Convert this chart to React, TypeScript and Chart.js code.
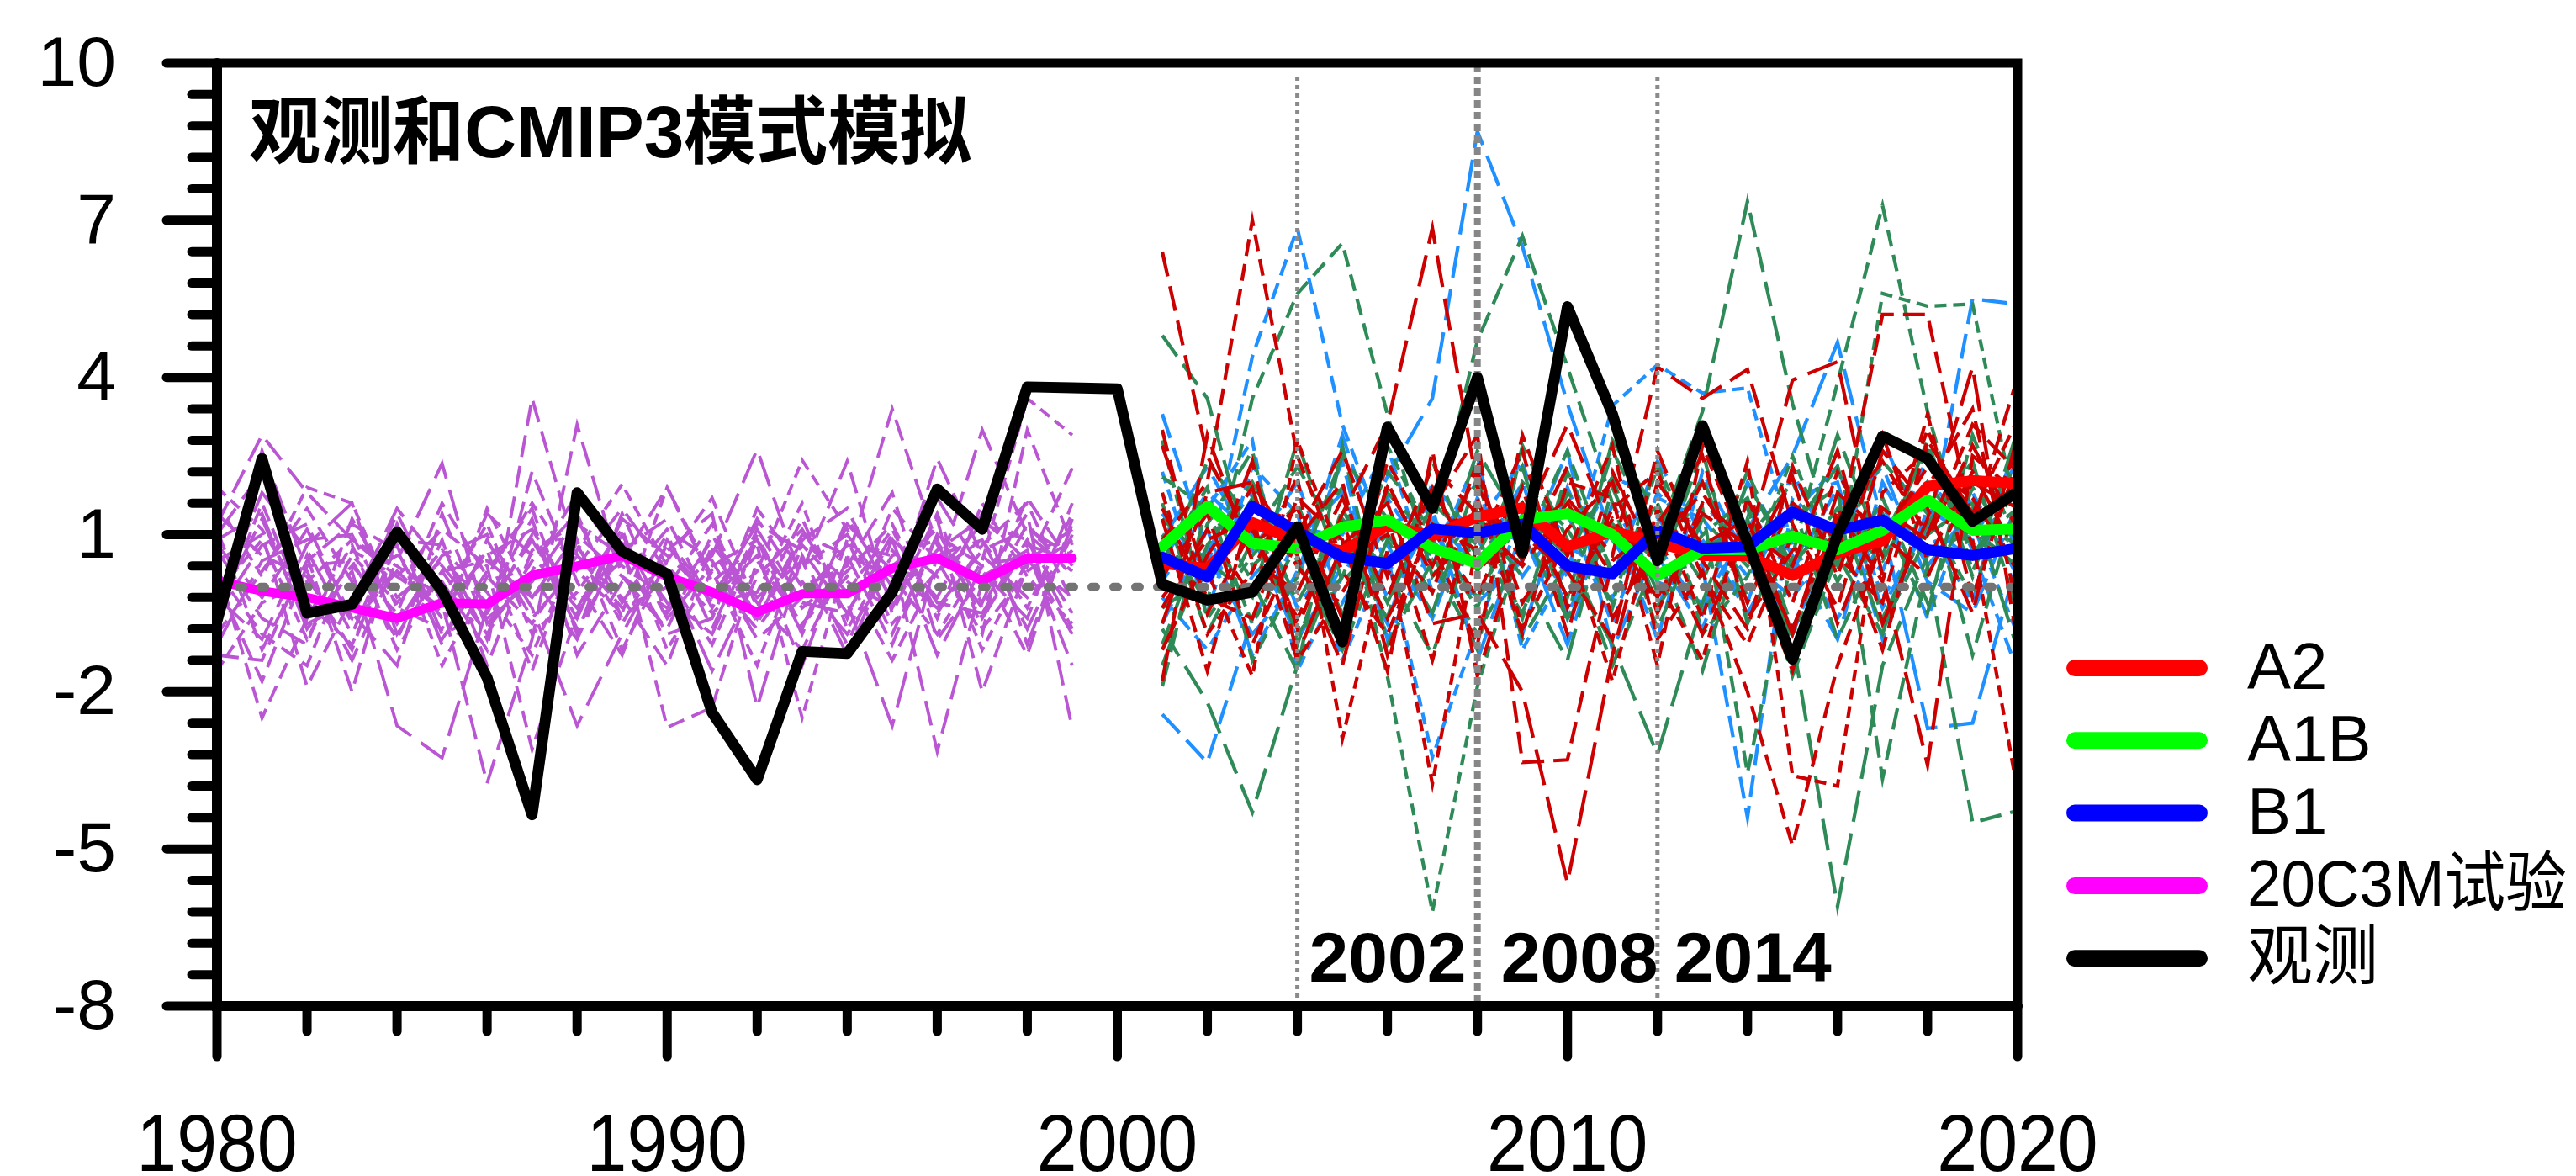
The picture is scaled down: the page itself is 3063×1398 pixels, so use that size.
import React, { useEffect, useRef } from "react";
import { Chart, registerables } from "chart.js";
Chart.register(...registerables);

// ---------- data ----------
const HIST_YEARS = [1980, 1981, 1982, 1983, 1984, 1985, 1986, 1987, 1988, 1989, 1990, 1991, 1992, 1993, 1994, 1995, 1996, 1997, 1998, 1999];
const PROJ_YEARS = [2001, 2002, 2003, 2004, 2005, 2006, 2007, 2008, 2009, 2010, 2011, 2012, 2013, 2014, 2015, 2016, 2017, 2018, 2019, 2020];
const OBS_YEARS = [1980, 1981, 1982, 1983, 1984, 1985, 1986, 1987, 1988, 1989, 1990, 1991, 1992, 1993, 1994, 1995, 1996, 1997, 1998, 1999, 2000,
  2001, 2002, 2003, 2004, 2005, 2006, 2007, 2008, 2009, 2010, 2011, 2012, 2013, 2014, 2015, 2016, 2017, 2018, 2019, 2020];

const OBSERVED = [-0.65, 2.45, -0.5, -0.33, 1.05, -0.07, -1.73, -4.35, 1.8, 0.68, 0.25, -2.4, -3.68, -1.23, -1.27, -0.1, 1.87, 1.1, 3.82, 3.8, 3.78,
  0.05, -0.25, -0.1, 1.15, -1.05, 3.05, 1.5, 4.0, 0.65, 5.35, 3.3, 0.5, 3.08, 0.85, -1.38, 1.0, 2.88, 2.45, 1.25, 1.82];

const MEAN_20C3M = [0.12, -0.08, -0.2, -0.4, -0.6, -0.3, -0.33, 0.22, 0.4, 0.6, 0.2, -0.1, -0.48, -0.13, -0.13, 0.36, 0.55, 0.12, 0.55, 0.55];
const MEAN_A2 = [0.45, 0.35, 1.23, 0.88, 0.68, 1.17, 0.97, 1.34, 1.51, 0.77, 1.06, 0.85, 0.6, 0.6, 0.22, 0.65, 0.88, 1.92, 2.03, 1.97];
const MEAN_A1B = [0.77, 1.54, 0.83, 0.74, 1.14, 1.28, 0.74, 0.45, 1.28, 1.4, 1.0, 0.22, 0.71, 0.71, 0.97, 0.71, 1.08, 1.66, 1.08, 1.11];
const MEAN_B1 = [0.57, 0.19, 1.54, 1.06, 0.57, 0.45, 1.11, 1.03, 1.2, 0.4, 0.25, 1.08, 0.74, 0.77, 1.43, 1.08, 1.28, 0.71, 0.6, 0.74];

const MEMBERS_20C3M = [
  [1.2, 2.9, 1.8, 0.9, 0.2, -0.4, 0.6, 1.1, -0.3, 0.5, 1.9, 0.2, -0.8, 0.4, 1.0, -0.2, 0.7, 1.3, 0.5, 1.1],
  [0.4, -2.5, -0.6, 0.8, -1.2, 0.3, -0.9, 0.5, 1.4, -0.6, 0.2, -1.1, 0.9, -0.4, 0.3, 1.2, -0.5, 0.8, 1.6, -0.3],
  [-0.8, 2.6, 0.3, -1.4, 0.5, 2.36, -0.7, 0.2, -1.0, 0.9, -0.3, 0.6, 2.63, 0.1, -0.9, 0.4, 1.1, -0.6, 0.8, 0.5],
  [1.6, 0.2, 1.9, 1.6, -0.4, -0.8, 1.5, -0.2, 0.7, 1.96, 0.4, -0.5, 0.3, 2.42, 1.1, -0.7, 0.3, 0.9, -0.4, 1.4],
  [-1.3, -1.4, 0.6, -2.0, 1.0, 0.1, -1.2, 3.6, 0.6, -0.2, -1.5, 0.8, -0.3, -1.2, 0.5, 3.4, 0.8, -0.4, 1.2, 0.2],
  [0.9, 1.4, -0.8, 0.3, -2.65, -3.26, -0.4, 0.9, -0.6, 1.3, 0.6, -0.2, 1.2, 0.7, -0.5, 0.9, -1.3, 0.4, 0.6, -0.9],
  [-0.5, 0.8, 1.2, -0.6, 1.4, -0.3, -3.75, -1.0, 3.1, 0.2, -0.8, 1.0, -0.6, 0.9, 1.5, -0.3, 2.45, 0.6, -0.2, 0.7],
  [0.3, -0.9, -1.5, 0.7, 0.2, 1.1, 0.4, -3.1, -0.5, 0.8, -2.68, -2.3, 0.5, -0.7, 0.2, -1.4, 0.3, 1.2, 0.9, -0.5],
  [-1.1, 0.5, 0.9, 1.0, -0.7, 0.6, 1.0, -0.4, -2.65, -0.9, 0.7, 1.4, -2.3, 0.6, -1.1, 0.9, 0.2, 3.0, 1.0, 0.3],
  [1.9, 1.1, -0.3, -1.1, 0.8, -1.5, 0.2, 1.6, 0.3, -0.5, 1.9, 0.1, 0.8, -2.5, 0.6, 0.2, -0.9, 0.5, 3.6, 2.9],
  [0.1, -1.8, 0.4, 0.5, -1.0, 0.9, -1.5, 0.7, 1.2, 0.6, -0.9, -0.6, 1.5, 0.3, 2.4, -0.5, 1.3, -2.0, 0.4, 2.27],
  [-0.3, 1.8, 0.7, -0.9, 1.1, -1.1, 0.9, -0.6, 0.4, 1.5, 0.3, -1.6, 0.2, 1.1, -0.3, -2.65, 0.6, 0.9, -0.8, 1.0],
  [0.7, -0.6, -1.1, 1.3, -0.2, 0.5, -0.3, 1.3, -1.3, 0.1, 1.1, 0.5, -1.0, -0.2, 0.8, 0.6, -3.14, 0.1, 1.4, -2.7],
  [-0.9, 0.3, 1.5, 0.1, 0.6, -0.6, 0.7, -1.6, 0.9, -1.2, 0.5, 1.7, -0.4, 1.3, -0.6, 1.5, 0.5, -0.9, 3.0, 0.8],
  [1.0, 2.2, -0.2, -0.5, -1.5, 1.4, -0.8, 0.3, 1.8, 0.4, -0.2, -0.9, 1.0, -0.8, 1.3, 0.0, 1.7, 0.3, -0.6, 1.6],
  [-1.6, -0.3, 0.1, 0.9, 0.4, -0.2, 1.2, -0.9, -0.1, 1.1, -1.2, 0.3, -1.5, 0.8, -0.1, 1.1, -0.6, 1.6, 0.2, -0.7],
  [0.5, 1.0, -1.9, -0.2, 0.9, 0.8, -1.0, 2.2, 0.1, -1.3, 0.9, -0.2, 0.6, -1.5, 0.9, -0.9, 1.0, -0.3, 1.7, 0.4],
  [-0.2, -1.0, 0.8, 1.6, -0.9, 0.3, 0.5, -0.2, 1.0, 0.2, -0.4, 0.9, -0.2, 0.5, -1.3, 0.7, -0.2, 1.4, -1.1, 1.2],
  [1.4, 0.6, 0.2, -1.2, 1.2, -0.9, -0.5, 1.0, -0.8, 0.7, 1.3, -0.4, 1.3, 0.0, 0.4, 1.8, -1.0, 0.2, 0.7, -1.5],
  [-0.6, 1.6, -0.5, 0.4, -0.5, 1.6, 0.2, -0.7, 0.6, -0.4, 0.0, 1.2, -0.7, 0.9, 0.1, -0.4, 1.4, -0.8, 0.3, 0.9],
  [0.8, -0.2, 1.1, -0.7, 0.3, -0.5, 1.4, 0.6, -0.4, 1.0, -0.6, 0.4, 0.9, -0.9, 1.2, 0.3, -0.4, 0.7, 1.1, 0.6],
  [-0.1, 0.9, -1.0, 0.6, -0.3, 0.7, -0.1, -1.3, 0.8, -0.7, 0.8, -0.3, -0.1, 1.6, -0.8, 0.6, 0.9, -1.2, 0.5, -0.2],
  [1.1, -1.2, 0.5, 1.2, 0.7, -1.0, 0.3, 1.5, -0.9, 1.4, -0.5, 0.7, -0.6, 1.0, 0.6, -1.1, 1.0, 0.4, -1.3, 1.3],
  [-0.4, 1.3, -0.7, -0.3, 1.5, 0.4, -0.6, 0.1, 1.3, -0.3, 1.0, -0.8, 1.1, -0.3, -0.5, 1.0, -0.3, -0.5, 0.9, -0.8],
];

const MEMBERS_A2 = [
  [6.4, 2.5, 0.8, 1.5, -0.6, 1.9, 0.4, 2.2, -0.3, 1.1, 2.0, -0.5, 1.6, 0.9, -0.8, 1.3, 2.4, 1.0, 3.1, 2.2],
  [0.9, 2.0, 7.0, 2.5, 0.3, -0.9, 1.2, 0.7, 2.6, -0.4, 1.5, 2.2, 0.2, -1.1, 1.0, 0.6, -0.3, 2.8, 1.4, 3.2],
  [-1.2, 0.6, 1.9, -0.8, 1.4, 3.1, 6.85, 1.9, 0.5, 2.3, -0.6, 0.9, 1.8, 0.4, 2.1, -0.7, 1.5, 0.9, 2.7, 1.1],
  [1.8, -0.9, 0.3, 2.1, -2.9, 0.7, -3.76, 0.9, 1.6, -0.2, 1.3, 0.1, -1.4, 1.7, -0.3, 2.2, 0.6, 3.0, 0.8, 2.6],
  [0.2, 1.4, -1.1, 0.9, 2.0, -1.3, 1.5, 2.9, -3.35, -3.3, 0.5, 1.2, 2.5, -0.6, 0.7, 1.1, -1.2, 1.9, 3.4, -0.4],
  [2.7, 0.1, 2.4, -1.3, 0.8, 1.6, -0.7, -0.5, -2.0, -5.65, -1.3, 2.0, 0.8, 1.3, -0.9, 1.8, 1.0, 0.2, 2.0, 1.5],
  [-0.4, 1.1, -0.2, 1.0, 2.6, 0.2, 2.3, 1.4, 0.9, 1.7, 0.6, 4.2, 3.6, 4.15, 1.2, -0.4, 2.6, 1.5, -0.5, 2.9],
  [1.3, -1.6, 1.6, 0.4, -0.7, 2.4, 0.8, -1.1, 2.9, 0.6, 2.7, -1.0, 0.3, -2.0, -4.94, -1.5, 0.9, 2.3, 1.7, 0.3],
  [-1.8, 2.9, 0.5, -0.1, 1.7, -0.2, 1.9, 0.3, 1.2, 3.1, 1.0, -0.2, 1.4, 0.8, 3.95, 4.3, 0.2, -3.4, 2.5, 1.8],
  [0.6, 0.3, -1.7, 2.8, 0.5, 1.0, -0.1, 2.4, -0.8, 0.9, -1.8, 1.5, -0.6, 2.4, -3.6, -3.8, 1.8, 2.6, 0.9, -3.9],
  [3.0, -0.5, 1.1, -0.6, 1.2, -0.6, 1.1, -0.2, 1.9, -0.9, 2.2, 0.4, 2.0, -0.3, 1.6, 0.9, 5.2, 5.2, 1.2, 4.0],
  [-0.7, 1.8, 2.0, 0.6, -1.5, 2.0, 0.2, 1.2, 0.4, 1.6, 0.2, 1.0, -0.9, 1.1, 0.4, 2.6, -0.7, 1.3, 4.2, -1.1],
  [1.5, -0.2, -0.6, 1.7, 0.9, -1.6, 2.6, -1.7, 1.0, 0.3, -1.0, 2.6, 0.5, -0.8, 2.3, 0.2, 2.9, 0.5, 2.2, 0.6],
  [-0.2, 0.9, 1.3, -1.4, -0.1, 1.3, -1.4, 1.7, -0.9, 2.0, 1.7, -1.5, 2.7, 0.6, -1.6, 1.5, 0.1, 3.3, -0.2, 2.4],
];

const MEMBERS_A1B = [
  [4.8, 3.6, 0.4, 1.2, -0.5, 1.8, 0.9, -0.2, 1.4, 0.6, 2.1, -0.4, 1.0, 1.7, -0.8, 1.2, 0.5, 2.0, 0.8, 1.5],
  [1.0, -0.3, 3.6, 5.6, 6.56, 3.3, 0.2, 1.5, -0.6, 2.2, 0.3, 1.6, -0.5, 0.9, 2.0, 0.1, 1.7, -0.3, 1.9, 0.7],
  [-0.8, -2.2, -4.3, -1.5, 0.7, 0.4, 1.8, 0.6, 2.3, -0.7, 1.2, 0.5, 2.1, -0.2, 1.1, 2.3, -0.6, 1.2, 2.4, -0.5],
  [2.1, 1.5, -0.7, 0.8, 1.9, -1.7, -6.2, -1.9, 0.9, 1.4, -0.4, 2.3, 0.6, 1.5, -0.9, 0.8, 2.4, 1.4, -0.2, 2.6],
  [0.3, 2.4, 1.2, -0.9, 0.2, 2.2, 1.1, 4.7, 6.7, 4.2, 1.6, -0.8, 1.3, 0.4, 1.6, -1.0, 0.9, 2.6, 0.6, 1.9],
  [-1.5, 0.8, 2.0, 0.5, -1.2, 0.9, -0.5, 2.1, -1.0, 0.5, -1.1, -3.2, -0.3, 2.0, 0.4, 1.5, -0.8, 1.0, 1.6, -1.2],
  [1.6, -0.9, 0.9, 2.3, 0.8, -0.6, 2.4, 0.3, 1.6, -0.2, 2.6, 0.9, 3.35, 7.36, 3.5, 0.5, 1.4, -0.5, 2.9, 0.8],
  [0.5, 1.9, -1.4, 0.2, 2.5, 1.3, 0.6, -0.9, 0.7, 2.6, 0.2, 1.1, 1.5, -3.55, 0.6, 3.9, 7.28, 3.35, 0.3, 2.2],
  [-0.4, 0.2, 1.7, -0.3, 1.3, 0.3, -1.3, 1.3, 0.2, -1.4, 1.9, -0.1, 0.8, 1.0, -1.0, -6.1, -1.5, 0.6, 1.1, 0.4],
  [2.8, -0.6, 0.6, 1.6, -0.6, 2.7, 0.9, -0.4, 2.0, 1.1, -0.3, 2.4, -0.9, 0.2, 2.5, 0.3, 5.6, 5.36, 5.4, 1.3],
  [-1.1, 1.2, 2.6, -1.1, 1.5, -0.3, 1.6, 0.8, -0.5, 1.8, 0.9, 0.2, 2.6, -0.7, 1.3, 1.9, -3.66, 0.4, -4.5, -4.27],
  [1.3, 0.5, -0.2, 2.8, 0.1, 1.0, -0.1, 2.6, 1.1, -0.6, 2.8, 1.4, 0.1, 2.2, 0.2, 2.9, 0.6, 2.8, 0.2, 3.0],
  [-1.9, 1.6, 0.1, -1.6, 2.7, -1.1, 0.5, -1.2, 2.7, 0.9, -1.5, 0.6, -1.6, 1.3, -1.7, 0.6, -0.9, 1.9, -1.3, 1.7],
];

const MEMBERS_B1 = [
  [-2.43, -3.35, -0.6, 0.9, 1.8, -0.2, 1.3, 0.4, 2.0, -0.5, 1.1, 0.6, -0.8, 1.5, 0.3, 1.9, -0.4, 1.2, 0.5, 1.0],
  [1.4, 0.3, 4.4, 6.85, 3.1, 0.8, -0.6, 1.7, 0.2, 1.4, -0.7, 1.8, 0.9, -0.3, 2.2, 0.4, 1.6, -0.6, 1.8, 0.2],
  [0.5, 1.8, 1.0, -1.0, 0.4, 2.1, 3.6, 8.7, 6.5, 3.5, 0.9, -0.4, 1.6, 0.7, -0.9, 1.3, 2.3, 0.1, -0.5, 1.6],
  [2.2, -0.5, 2.3, 1.4, -1.4, 0.6, -3.25, -0.8, 1.4, 0.2, 3.46, 4.24, 3.7, 3.8, 0.8, -0.6, 0.9, 2.0, 1.2, -0.9],
  [-0.7, 1.1, -1.3, 0.3, 2.4, -1.0, 0.8, 2.0, -0.9, 1.9, -0.2, 1.3, 0.4, -4.4, 1.7, 2.0, -1.0, 1.5, 0.9, 2.4],
  [0.9, 2.3, 0.7, 2.0, -0.3, 1.2, 1.5, -1.4, 1.1, -1.1, 1.6, 0.1, -0.3, 1.1, 2.5, 4.67, 1.2, -2.7, -2.6, 0.5],
  [3.3, 0.7, 1.8, -0.4, 0.9, -0.7, 2.0, 0.9, -0.3, 0.8, 0.2, 2.4, 1.0, -0.5, 1.0, 0.6, 2.8, 0.9, 5.5, 5.4],
  [-0.2, -1.2, 0.2, 1.1, 1.0, 2.7, -0.1, 1.2, 2.4, -0.6, 1.3, -1.0, 2.2, 0.5, -0.2, 1.0, 0.3, 2.5, 0.7, -1.6],
  [1.0, 0.6, -0.9, 0.1, 2.9, 0.3, 1.1, -0.3, 0.5, 2.6, -1.2, 0.8, -0.5, 2.0, 0.6, -1.0, 2.0, 0.4, 1.5, 0.9],
  [0.1, 1.5, 2.8, -1.6, 0.2, 1.7, 0.4, 2.5, -1.2, 0.4, 2.1, 1.7, 1.3, 0.2, 1.4, 2.3, -0.2, 1.1, -0.3, 3.0],
];

const Y_MAJOR_TICKS = [10, 7, 4, 1, -2, -5, -8];
const X_MAJOR_TICKS = [1980, 1990, 2000, 2010, 2020];
const PERIOD_LINES = [2004, 2008, 2012];
const PERIOD_LABELS = ["2002", "2008", "2014"];
const TITLE = "观测和CMIP3模式模拟";
const LEGEND_LABELS = ["A2", "A1B", "B1", "20C3M试验", "观测"];
const LEGEND_COLORS = ["#ff0000", "#00ff00", "#0000ff", "#ff00ff", "#000000"];

// ---------- styling ----------
const W = 3063;
const H = 1398;
const PLOT = { left: 258, top: 75, right: 2399, bottom: 1196 };
const SANS = '"Liberation Sans", Arial, Helvetica, "Noto Sans CJK SC", sans-serif';
const DASHES = [[30, 12], [20, 10], [38, 14], [14, 8], [26, 11], [44, 14]];

function pts(xs: number[], ys: number[]) {
  return xs.map((x, i) => ({ x, y: ys[i] }));
}

function memberSets(rows: number[][], xs: number[], color: string, width: number, order: number, label: string) {
  return rows.map((r, i) => ({
    label: label + (i + 1),
    data: pts(xs, r),
    borderColor: color,
    borderWidth: width,
    borderDash: DASHES[i % DASHES.length],
    borderCapStyle: "butt",
    borderJoinStyle: "miter",
    pointRadius: 0,
    tension: 0,
    fill: false,
    order,
  }));
}

function meanSet(xs: number[], ys: number[], color: string, width: number, order: number, label: string) {
  return {
    label,
    data: pts(xs, ys),
    borderColor: color,
    borderWidth: width,
    borderCapStyle: "round",
    borderJoinStyle: "round",
    pointRadius: 0,
    tension: 0,
    fill: false,
    order,
  };
}

export default function App() {
  const ref = useRef<HTMLCanvasElement>(null);

  useEffect(() => {
    document.body.style.margin = "0";
    document.body.style.overflow = "hidden";
    const canvas = ref.current;
    if (!canvas) return;

    const datasets: any[] = [
      ...memberSets(MEMBERS_B1, PROJ_YEARS, "#1e90ff", 4.2, 10, "B1 member "),
      ...memberSets(MEMBERS_A1B, PROJ_YEARS, "#2e8b57", 4.2, 9, "A1B member "),
      ...memberSets(MEMBERS_A2, PROJ_YEARS, "#cc0000", 4.2, 8, "A2 member "),
      ...memberSets(MEMBERS_20C3M, HIST_YEARS, "#ba55d3", 3.8, 8, "20C3M member "),
      meanSet(PROJ_YEARS, MEAN_A2, "#ff0000", 13, 4, "A2"),
      meanSet(PROJ_YEARS, MEAN_A1B, "#00ff00", 13, 3, "A1B"),
      meanSet(PROJ_YEARS, MEAN_B1, "#0000ff", 13, 2, "B1"),
      meanSet(HIST_YEARS, MEAN_20C3M, "#ff00ff", 11, 2, "20C3M试验"),
      meanSet(OBS_YEARS, OBSERVED, "#000000", 13, 0, "观测"),
    ];
    const obsIndex = datasets.length - 1;

    const decor = {
      id: "decor",
      beforeDatasetDraw(chart: any, args: any) {
        if (args.index !== obsIndex) return;
        const ctx = chart.ctx;
        const xs = chart.scales.x;
        const ys = chart.scales.y;
        ctx.save();
        // zero reference line
        ctx.strokeStyle = "#747474";
        ctx.lineWidth = 10;
        ctx.lineCap = "round";
        ctx.setLineDash([5, 21]);
        ctx.beginPath();
        ctx.moveTo(xs.getPixelForValue(1980), ys.getPixelForValue(0));
        ctx.lineTo(xs.getPixelForValue(2020), ys.getPixelForValue(0));
        ctx.stroke();
        // period lines
        PERIOD_LINES.forEach((yr, i) => {
          const px = xs.getPixelForValue(yr);
          ctx.beginPath();
          if (i === 1) {
            ctx.strokeStyle = "#868686";
            ctx.lineWidth = 8;
            ctx.lineCap = "butt";
            ctx.setLineDash([9, 5]);
            ctx.moveTo(px, PLOT.top + 2);
          } else {
            ctx.strokeStyle = "#8a8a8a";
            ctx.lineWidth = 5;
            ctx.lineCap = "butt";
            ctx.setLineDash([5, 5]);
            ctx.moveTo(px, PLOT.top + 16);
          }
          ctx.lineTo(px, PLOT.bottom + 30);
          ctx.stroke();
        });
        ctx.restore();
      },
      afterDraw(chart: any) {
        const ctx = chart.ctx;
        const xs = chart.scales.x;
        const ys = chart.scales.y;
        const L = xs.getPixelForValue(1980);
        const R = xs.getPixelForValue(2020);
        const T = ys.getPixelForValue(10);
        const B = ys.getPixelForValue(-8);
        ctx.save();
        ctx.setLineDash([]);
        ctx.strokeStyle = "#000";
        ctx.lineCap = "round";
        // frame
        ctx.lineWidth = 11;
        ctx.beginPath();
        ctx.moveTo(L, T); ctx.lineTo(R, T); ctx.lineTo(R, B);
        ctx.stroke();
        ctx.lineWidth = 12;
        ctx.beginPath();
        ctx.moveTo(L, T); ctx.lineTo(L, B); ctx.lineTo(R, B);
        ctx.stroke();
        // y ticks
        ctx.lineWidth = 11;
        for (let k = 0; k < Y_MAJOR_TICKS.length; k++) {
          const v = Y_MAJOR_TICKS[k];
          const py = ys.getPixelForValue(v);
          ctx.beginPath(); ctx.moveTo(L - 60, py); ctx.lineTo(L, py); ctx.stroke();
          if (k < Y_MAJOR_TICKS.length - 1) {
            const step = (Y_MAJOR_TICKS[k + 1] - v) / 5;
            for (let m = 1; m < 5; m++) {
              const my = ys.getPixelForValue(v + step * m);
              ctx.beginPath(); ctx.moveTo(L - 30, my); ctx.lineTo(L, my); ctx.stroke();
            }
          }
        }
        // x ticks
        for (let k = 0; k < X_MAJOR_TICKS.length; k++) {
          const v = X_MAJOR_TICKS[k];
          const px = xs.getPixelForValue(v);
          ctx.beginPath(); ctx.moveTo(px, B); ctx.lineTo(px, B + 60); ctx.stroke();
          if (k < X_MAJOR_TICKS.length - 1) {
            const step = (X_MAJOR_TICKS[k + 1] - v) / 5;
            for (let m = 1; m < 5; m++) {
              const mx = xs.getPixelForValue(v + step * m);
              ctx.beginPath(); ctx.moveTo(mx, B); ctx.lineTo(mx, B + 30); ctx.stroke();
            }
          }
        }
        // y labels
        ctx.fillStyle = "#000";
        ctx.font = `84px ${SANS}`;
        ctx.textAlign = "right";
        ctx.textBaseline = "middle";
        Y_MAJOR_TICKS.forEach((v) => {
          ctx.fillText(String(v), 138, ys.getPixelForValue(v) + 4);
        });
        // x labels (slightly tall face)
        ctx.font = `86px ${SANS}`;
        ctx.textAlign = "center";
        ctx.textBaseline = "alphabetic";
        X_MAJOR_TICKS.forEach((v) => {
          ctx.save();
          ctx.translate(xs.getPixelForValue(v), 1392);
          ctx.scale(1, 1.13);
          ctx.fillText(String(v), 0, 0);
          ctx.restore();
        });
        // period labels
        ctx.font = `bold 84px ${SANS}`;
        ctx.textAlign = "left";
        const offs = [14, 28, 20];
        PERIOD_LABELS.forEach((t, i) => {
          ctx.fillText(t, xs.getPixelForValue(PERIOD_LINES[i]) + offs[i], 1167);
        });
        // title
        ctx.font = `bold 88px ${SANS}`;
        ctx.textBaseline = "middle";
        const tw = ctx.measureText(TITLE).width;
        ctx.save();
        ctx.translate(296, 163);
        ctx.scale(859 / tw, 1);
        ctx.fillText(TITLE, 0, 0);
        ctx.restore();
        // legend
        ctx.font = `78px ${SANS}`;
        ctx.textBaseline = "middle";
        LEGEND_LABELS.forEach((t, i) => {
          const y = 794 + i * 86.3;
          ctx.strokeStyle = LEGEND_COLORS[i];
          ctx.lineWidth = 20;
          ctx.lineCap = "round";
          ctx.beginPath(); ctx.moveTo(2467, y); ctx.lineTo(2615, y); ctx.stroke();
          ctx.fillStyle = "#000";
          const w = ctx.measureText(t).width;
          const maxW = 3052 - 2672;
          ctx.save();
          ctx.translate(2672, y + 3);
          if (w > maxW) ctx.scale(maxW / w, 1);
          ctx.fillText(t, 0, 0);
          ctx.restore();
        });
        ctx.restore();
      },
    };

    const chart = new Chart(canvas, {
      type: "line",
      data: { datasets },
      options: {
        responsive: false,
        devicePixelRatio: 1,
        animation: false,
        events: [],
        layout: { padding: { left: PLOT.left, top: PLOT.top, right: W - PLOT.right, bottom: H - PLOT.bottom } },
        scales: {
          x: { type: "linear", min: 1980, max: 2020, display: false },
          y: { type: "linear", min: -8, max: 10, display: false },
        },
        plugins: { legend: { display: false }, tooltip: { enabled: false }, title: { display: false } },
      },
      plugins: [decor],
    } as any);
    return () => chart.destroy();
  }, []);

  return (
    <div style={{ position: "absolute", left: 0, top: 0, width: W, height: H, background: "#fff" }}>
      <canvas ref={ref} width={W} height={H} style={{ display: "block", width: W, height: H }} />
    </div>
  );
}
